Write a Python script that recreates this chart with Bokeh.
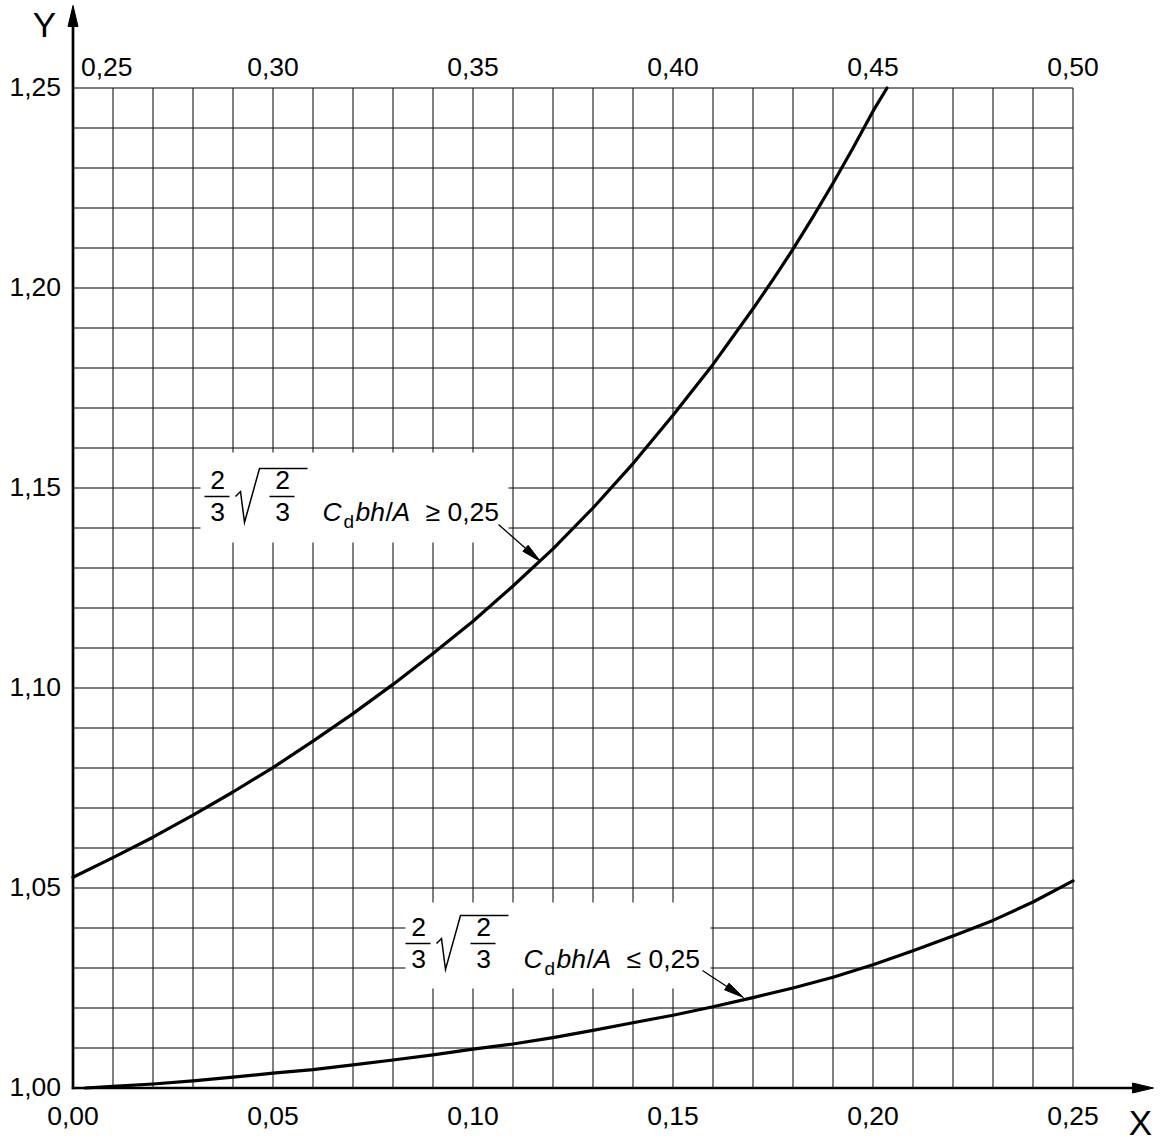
import numpy as np
from bokeh.plotting import figure
from bokeh.models import Range1d
from bokeh.core.properties import value
from bokeh.embed import file_html
from bokeh.resources import INLINE

# ---------------- data ----------------
x_bottom_ticks = [0.00, 0.05, 0.10, 0.15, 0.20, 0.25]
x_bottom_labels = ["0,00", "0,05", "0,10", "0,15", "0,20", "0,25"]
x_top_ticks = [0.25, 0.30, 0.35, 0.40, 0.45, 0.50]
x_top_labels = ["0,25", "0,30", "0,35", "0,40", "0,45", "0,50"]
y_ticks = [1.00, 1.05, 1.10, 1.15, 1.20, 1.25]
y_labels = ["1,00", "1,05", "1,10", "1,15", "1,20", "1,25"]
grid_step = 0.01

# lower curve (bottom axis, Cd bh/A <= 0,25)
lower_x = [0.003, 0.01, 0.02, 0.03, 0.04, 0.05, 0.06, 0.07, 0.08, 0.09,
           0.10, 0.11, 0.12, 0.13, 0.14, 0.15, 0.16, 0.17, 0.18, 0.19,
           0.20, 0.21, 0.22, 0.23, 0.24, 0.25]
lower_y = [1.0000, 1.0004, 1.0010, 1.0018, 1.0027, 1.0037, 1.0046, 1.0058, 1.0070, 1.0083,
           1.0097, 1.0110, 1.0126, 1.0144, 1.0163, 1.0182, 1.0203, 1.0226, 1.0250, 1.0277,
           1.0308, 1.0343, 1.0380, 1.0419, 1.0465, 1.0518]

# upper curve (top axis, Cd bh/A >= 0,25)
upper_x = [0.25, 0.26, 0.27, 0.28, 0.29, 0.30, 0.31, 0.32, 0.33, 0.34,
           0.35, 0.36, 0.37, 0.38, 0.39, 0.40, 0.41, 0.42, 0.425, 0.43,
           0.435, 0.44, 0.445, 0.45, 0.4535]
upper_y = [1.0527, 1.0576, 1.0627, 1.0682, 1.0740, 1.0801, 1.0867, 1.0936, 1.1009, 1.1086,
           1.1167, 1.1255, 1.1348, 1.1450, 1.1561, 1.1682, 1.1809, 1.1948, 1.2021, 1.2097,
           1.2178, 1.2262, 1.2350, 1.2442, 1.2500]

# ---------------- layout ----------------
FONT = "Liberation Sans"
FS = 26.5                   # main font size, px
W, H = 1164, 1144
GX0, GY0 = 72.5, 1087.5     # px of grid origin (0,00 ; 1,00)
SPAN = 1000                 # grid size in px
XMIN, XMAX = x_bottom_ticks[0], x_bottom_ticks[-1]
YMIN, YMAX = y_ticks[0], y_ticks[-1]
kx = (XMAX - XMIN) / SPAN
ky = (YMAX - YMIN) / SPAN
BASE_FIX = 0.41             # em: raise alphabetic baseline to where it is wanted

x_range = Range1d(XMIN - GX0 * kx, XMIN + (W - GX0) * kx)
y_range = Range1d(YMIN - (H - GY0) * ky, YMIN + GY0 * ky)
top_shift = x_top_ticks[0] - x_bottom_ticks[0]

p = figure(width=W, height=H, x_range=x_range, y_range=y_range,
           x_axis_type=None, y_axis_type=None, toolbar_location=None,
           output_backend="svg", min_border=0, outline_line_color=None,
           background_fill_color="white", border_fill_color="white")
p.extra_x_ranges = {"top": Range1d(x_range.start + top_shift, x_range.end + top_shift)}


def X(ix):  # page px -> data x
    return XMIN + (ix - GX0) * kx


def Y(iy):  # page px -> data y
    return YMIN + (GY0 - iy) * ky


GRID_C = "#000000"

# grid
gx = np.round(np.arange(XMIN + grid_step, XMAX + 1e-9, grid_step), 4)
gy = np.round(np.arange(YMIN + grid_step, YMAX + 1e-9, grid_step), 4)
p.segment(x0=gx, y0=YMIN, x1=gx, y1=YMAX, line_color=GRID_C, line_width=1.0)
p.segment(x0=XMIN, y0=gy, x1=XMAX, y1=gy, line_color=GRID_C, line_width=1.0)

# white label boxes
p.quad(left=[X(200), X(405)], right=[X(508), X(710)],
       bottom=[Y(542), Y(988)], top=[Y(452), Y(902)],
       fill_color="white", line_color=None)

# curves
p.line(lower_x, lower_y, line_color="black", line_width=3.2, line_join="round", line_cap="round")
p.line(upper_x, upper_y, x_range_name="top", line_color="black", line_width=3.2,
       line_join="round", line_cap="round")


def arrow(ix0, iy0, ix1, iy1, head_len=20.0, head_hw=4.0, lw=1.3):
    d = np.array([ix1 - ix0, iy1 - iy0], dtype=float)
    d /= np.hypot(*d)
    n = np.array([-d[1], d[0]])
    tip = np.array([ix1, iy1], dtype=float)
    base = tip - d * head_len
    p.segment(x0=[X(ix0)], y0=[Y(iy0)], x1=[X(base[0])], y1=[Y(base[1])],
              line_color="black", line_width=lw)
    pts = [tip, base + n * head_hw, base - n * head_hw]
    p.patch([X(q[0]) for q in pts], [Y(q[1]) for q in pts],
            fill_color="black", line_color="black", line_width=1)


# axes (thick lines with arrows)
p.segment(x0=[XMIN], y0=[YMIN - 1.2 * ky], x1=[XMIN], y1=[Y(25)], line_color="black", line_width=2.7)
p.segment(x0=[XMIN - 1.2 * kx], y0=[YMIN], x1=[X(1134)], y1=[YMIN], line_color="black", line_width=2.7)
p.patch([XMIN - 5 * kx, XMIN + 5 * kx, XMIN], [Y(26), Y(26), Y(5)],
        fill_color="black", line_color="black")
p.patch([X(1132), X(1132), X(1153)], [YMIN + 5 * ky, YMIN - 5 * ky, YMIN],
        fill_color="black", line_color="black")


def txt(x, y, s, size=FS, style="normal", align="left", x_range_name=None):
    xs = x if isinstance(x, list) else [x]
    ys = y if isinstance(y, list) else [y]
    ys = [v + BASE_FIX * size * ky for v in ys]
    kw = dict(x=xs, y=ys, text=s if isinstance(s, list) else [s],
              text_font=value(FONT), text_font_size=f"{size}px", text_font_style=style,
              text_align=align, text_baseline="alphabetic", text_color="black")
    if x_range_name:
        kw["x_range_name"] = x_range_name
    p.text(**kw)


# tick labels
txt([X(GX0 - 12)] * len(y_ticks), [t - 9.5 * ky for t in y_ticks], y_labels, align="right")
txt(x_bottom_ticks, [YMIN - 39 * ky] * len(x_bottom_ticks), x_bottom_labels, align="center")
txt([x_top_ticks[0] + 8 * kx], [YMAX + 10 * ky], [x_top_labels[0]], align="left", x_range_name="top")
txt(x_top_ticks[1:], [YMAX + 10 * ky] * (len(x_top_ticks) - 1), x_top_labels[1:],
    align="center", x_range_name="top")

# axis names
txt(X(44), Y(38), "Y", size=35, align="center")
txt(X(1140), Y(1136), "X", size=35, align="center")


def formula(ax, ay, sym):
    """ax, ay: page px of the baseline-left of 'C'."""
    def at(dx, dy):
        return X(ax + dx), Y(ay + dy)

    for cx in (-105, -40):
        x2, y2 = at(cx, -32)
        txt(x2, y2, "2", align="center")
        x3, y3 = at(cx, 0)
        txt(x3, y3, "3", align="center")
        bx0, by = at(cx - 13, -26)
        bx1, _ = at(cx + 12, -26)
        p.segment(x0=[bx0], y0=[by], x1=[bx1], y1=[by], line_color="black", line_width=1.5)
    rad = [(-87, -26), (-82, -31), (-78, 0), (-63, -54), (-15, -54)]
    p.line([X(ax + a) for a, b in rad], [Y(ay + b) for a, b in rad],
           line_color="black", line_width=1.5, line_join="miter")
    x, y = at(0, 0)
    txt(x, y, "C", style="italic")
    x, y = at(21, 7)
    txt(x, y, "d", size=19)
    x, y = at(33, 0)
    txt(x, y, "bh", style="italic")
    x, y = at(63, 0)
    txt(x, y, "/")
    x, y = at(70, 0)
    txt(x, y, "A", style="italic")
    x, y = at(103, 0)
    txt(x, y, sym)
    x, y = at(125, 0)
    txt(x, y, "0,25")


formula(322, 522, "\u2265")
formula(523, 969, "\u2264")

arrow(498, 524, 540, 561)
arrow(702, 970, 743, 997)

open("out.html", "w").write(file_html(p, INLINE))
